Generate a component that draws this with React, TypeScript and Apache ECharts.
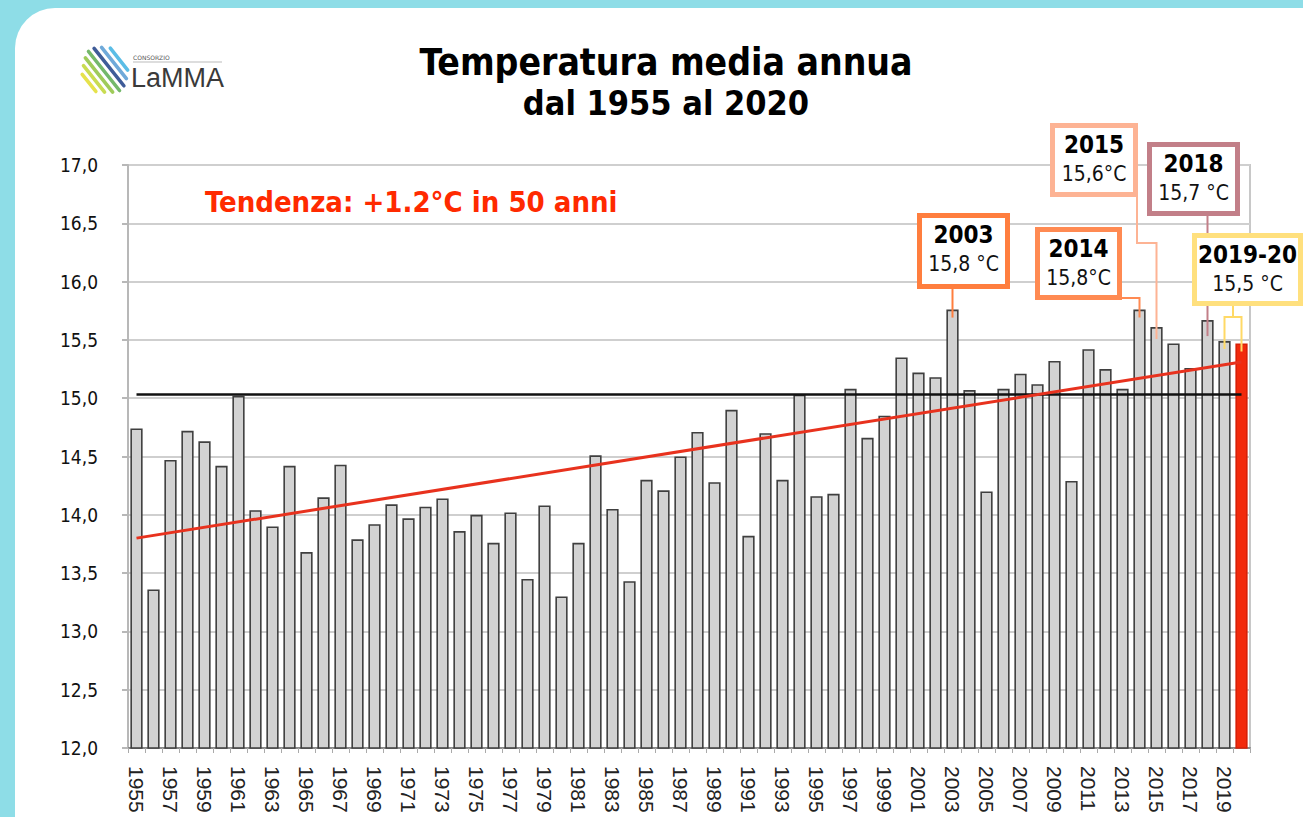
import React, { useEffect, useRef } from "react";
import * as echarts from "echarts";

const years = [
  "1955","1956","1957","1958","1959","1960","1961","1962","1963","1964",
  "1965","1966","1967","1968","1969","1970","1971","1972","1973","1974",
  "1975","1976","1977","1978","1979","1980","1981","1982","1983","1984",
  "1985","1986","1987","1988","1989","1990","1991","1992","1993","1994",
  "1995","1996","1997","1998","1999","2000","2001","2002","2003","2004",
  "2005","2006","2007","2008","2009","2010","2011","2012","2013","2014",
  "2015","2016","2017","2018","2019","2020",
];

const temps = [
  14.74, 13.36, 14.47, 14.72, 14.63, 14.42, 15.02, 14.04, 13.90, 14.42,
  13.68, 14.15, 14.43, 13.79, 13.92, 14.09, 13.97, 14.07, 14.14, 13.86,
  14.00, 13.76, 14.02, 13.45, 14.08, 13.30, 13.76, 14.51, 14.05, 13.43,
  14.30, 14.21, 14.50, 14.71, 14.28, 14.90, 13.82, 14.70, 14.30, 15.03,
  14.16, 14.18, 15.08, 14.66, 14.85, 15.35, 15.22, 15.18, 15.76, 15.07,
  14.20, 15.08, 15.21, 15.12, 15.32, 14.29, 15.42, 15.25, 15.08, 15.76,
  15.61, 15.47, 15.26, 15.67, 15.49, 15.47,
];

const highlightYear = "2020";
const meanValue = 15.03;
const trendStart = 13.8;
const trendEnd = 15.31;

const yMin = 12;
const yMax = 17;
const yStep = 0.5;

const titleLines = ["Temperatura media annua", "dal 1955 al 2020"];
const trendText = "Tendenza: +1.2°C in 50 anni";

const COND = "'DejaVu Sans Condensed', 'Liberation Sans Narrow', 'DejaVu Sans', sans-serif";

export default function App() {
  const ref = useRef<HTMLDivElement>(null);

  useEffect(() => {
    if (!ref.current) return;
    const chart = echarts.init(ref.current, null, { renderer: "svg" });

    const barData = temps.map((v, i) =>
      years[i] === highlightYear
        ? { value: v, itemStyle: { color: "#F22A0C", borderColor: "#D82008" } }
        : v
    );

    chart.setOption({
      animation: false,
      grid: {
        left: 128,
        right: 53,
        top: 165,
        bottom: 69,
        show: true,
        borderColor: "#c8c8c8",
        borderWidth: 2,
        backgroundColor: "transparent",
      },
      xAxis: {
        type: "category",
        data: years,
        boundaryGap: true,
        axisLine: { lineStyle: { color: "#8a8a8a", width: 2 } },
        axisTick: { show: true, interval: 0, length: 5, lineStyle: { color: "#aaa" } },
        axisLabel: {
          interval: 1,
          rotate: -90,
          margin: 18,
          fontSize: 21,
          color: "#222",
          fontFamily: "'Liberation Sans', Arial, sans-serif",
        },
        splitLine: { show: false },
      },
      yAxis: {
        type: "value",
        min: yMin,
        max: yMax,
        interval: yStep,
        axisLine: { show: true, lineStyle: { color: "#b8b8b8", width: 2 } },
        axisTick: { show: true, length: 6, lineStyle: { color: "#b8b8b8", width: 2 } },
        axisLabel: {
          margin: 30,
          fontSize: 19,
          color: "#111",
          fontFamily: COND,
          formatter: (v: number) => v.toFixed(1).replace(".", ","),
        },
        splitLine: { show: true, lineStyle: { color: "#cfcfcf", width: 2 } },
      },
      series: [
        {
          type: "bar",
          data: barData,
          barWidth: "72%",
          itemStyle: { color: "#D2D2D2", borderColor: "#3f3f3f", borderWidth: 1.6 },
          markLine: {
            silent: true,
            symbol: "none",
            label: { show: false },
            data: [
              [
                { coord: [years[0], meanValue], lineStyle: { color: "#111", width: 2.5, type: "solid" } },
                { coord: [years[years.length - 1], meanValue] },
              ],
              [
                { coord: [years[0], trendStart], lineStyle: { color: "#E8321E", width: 3, type: "solid" } },
                { coord: [years[years.length - 1], trendEnd] },
              ],
            ],
          },
        },
      ],
    });

    const px = (year: string) => {
      const i = years.indexOf(year);
      return chart.convertToPixel({ gridIndex: 0 }, [i, temps[i]]) as number[];
    };

    const boxes = [
      { year: "2003", l1: "2003", l2: "15,8 °C", color: "#FF7E3E", x: 917, y: 213, w: 93, h: 76 },
      { year: "2014", l1: "2014", l2: "15,8°C", color: "#FF8A52", x: 1035, y: 227, w: 87, h: 73 },
      { year: "2015", l1: "2015", l2: "15,6°C", color: "#FDB394", x: 1050, y: 123, w: 88, h: 74 },
      { year: "2018", l1: "2018", l2: "15,7 °C", color: "#C27F88", x: 1147, y: 142, w: 93, h: 74 },
      { year: "2019-20", l1: "2019-20", l2: "15,5 °C", color: "#FFE07E", x: 1192, y: 233, w: 111, h: 73 },
    ];

    const g: any[] = [];

    // logo
    const stripeColors = ["#E6E24C", "#C9DC52", "#9FCB5A", "#74B86A", "#3F5C98", "#6FA9D9", "#5BBDE6"];
    const stripeLens = [22, 34, 44, 50, 48, 40, 28];
    const cx = 104, cy = 71;
    stripeColors.forEach((c, i) => {
      const off = (i - 3) * 6.4;
      const ox = cx + 0.78 * off, oy = cy - 0.62 * off;
      const L = stripeLens[i] / 2;
      g.push({
        type: "line",
        shape: { x1: ox - 0.62 * L, y1: oy - 0.78 * L, x2: ox + 0.62 * L, y2: oy + 0.78 * L },
        style: { stroke: c, lineWidth: 3.6, lineCap: "round" },
      });
    });
    g.push({ type: "text", x: 133, y: 57, style: { text: "CONSORZIO", fill: "#555", font: "6px 'DejaVu Sans', sans-serif", textVerticalAlign: "middle" } });
    g.push({ type: "line", shape: { x1: 133, y1: 62, x2: 222, y2: 62 }, style: { stroke: "#bbb", lineWidth: 1 } });
    g.push({ type: "text", x: 131, y: 78, style: { text: "LaMMA", fill: "#3a3a3a", font: "27px 'Liberation Sans', Arial, sans-serif", textVerticalAlign: "middle" } });

    // titles
    g.push({ type: "text", x: 666, y: 62, style: { text: titleLines[0], fill: "#000", font: `bold 37px ${COND}`, textAlign: "center", textVerticalAlign: "middle" } });
    g.push({ type: "text", x: 666, y: 103, style: { text: titleLines[1], fill: "#000", font: `bold 34px ${COND}`, textAlign: "center", textVerticalAlign: "middle" } });
    g.push({ type: "text", x: 205, y: 202, style: { text: trendText, fill: "#FF2A00", font: `bold 29px ${COND}`, textAlign: "left", textVerticalAlign: "middle" } });

    // leader lines
    const p2003 = px("2003");
    g.push({ type: "polyline", shape: { points: [[p2003[0], 289], [p2003[0], p2003[1] + 8]] }, style: { stroke: "#FF7E3E", lineWidth: 2, fill: null } });
    const p2014 = px("2014");
    g.push({ type: "polyline", shape: { points: [[1120, 298], [p2014[0], 298], [p2014[0], p2014[1] + 8]] }, style: { stroke: "#FF8A52", lineWidth: 2, fill: null } });
    const p2015 = px("2015");
    g.push({ type: "polyline", shape: { points: [[1137, 195], [1137, 243], [p2015[0], 243], [p2015[0], p2015[1] + 12]] }, style: { stroke: "#FDB394", lineWidth: 2, fill: null } });
    const p2018 = px("2018");
    g.push({ type: "polyline", shape: { points: [[p2018[0], 216], [p2018[0], p2018[1] + 16]] }, style: { stroke: "#C27F88", lineWidth: 2, fill: null } });
    const p2019 = px("2019");
    const p2020 = px("2020");
    const mid = (p2019[0] + p2020[0]) / 2;
    g.push({ type: "polyline", shape: { points: [[mid, 306], [mid, 317]] }, style: { stroke: "#FFD966", lineWidth: 2, fill: null } });
    g.push({ type: "polyline", shape: { points: [[p2019[0], p2019[1] + 8], [p2019[0], 317], [p2020[0], 317], [p2020[0], p2020[1] + 8]] }, style: { stroke: "#FFD966", lineWidth: 2, fill: null } });

    // boxes
    boxes.forEach((b) => {
      g.push({
        type: "rect",
        shape: { x: b.x + 2.5, y: b.y + 2.5, width: b.w - 5, height: b.h - 5 },
        style: { fill: "#fff", stroke: b.color, lineWidth: 5 },
      });
      g.push({ type: "text", x: b.x + b.w / 2, y: b.y + 22, style: { text: b.l1, fill: "#000", font: `bold 24px ${COND}`, textAlign: "center", textVerticalAlign: "middle" } });
      g.push({ type: "text", x: b.x + b.w / 2, y: b.y + 51, style: { text: b.l2, fill: "#111", font: `21px ${COND}`, textAlign: "center", textVerticalAlign: "middle" } });
    });

    chart.setOption({ graphic: { elements: g.map((e) => ({ ...e, z: 100 })) } });

    return () => chart.dispose();
  }, []);

  return (
    <div style={{ position: "absolute", left: 0, top: 0, width: 1303, height: 817, background: "#8EDDE7", overflow: "hidden" }}>
      <div style={{ position: "absolute", left: 15, top: 8, width: 1340, height: 900, background: "#fff", borderTopLeftRadius: 40 }} />
      <div ref={ref} style={{ position: "absolute", left: 0, top: 0, width: 1303, height: 817 }} />
    </div>
  );
}
